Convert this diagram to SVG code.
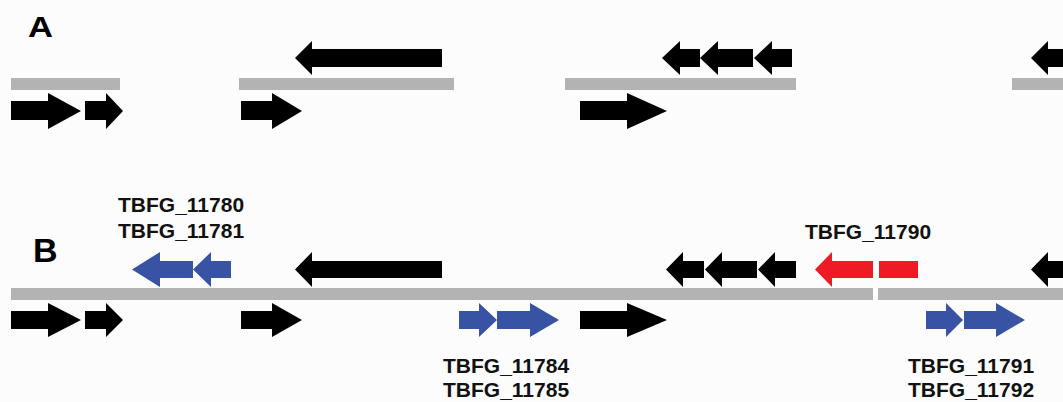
<svg xmlns="http://www.w3.org/2000/svg" width="1063" height="402" viewBox="0 0 1063 402">
<style>
.bar{fill:#b3b3b3}
.blk{fill:#000}
.blu{fill:#3953a4}
.red{fill:#ed1c24}
.lbl{font-family:"Liberation Sans",Arial,sans-serif;font-weight:bold;font-size:21px;fill:#111}
.pan{font-family:"Liberation Sans",Arial,sans-serif;font-weight:bold;fill:#000}
</style>
<rect width="1063" height="402" fill="#fcfcfd"/>
<g id="panelA">
<text class="pan" x="28" y="37" font-size="29" textLength="25" lengthAdjust="spacingAndGlyphs">A</text>
<g id="A-bars">
<rect class="bar" x="11" y="78" width="109" height="12"/>
<rect class="bar" x="239" y="78" width="215" height="12"/>
<rect class="bar" x="565" y="78" width="231" height="12"/>
<rect class="bar" x="1012" y="78" width="51" height="12"/>
</g>
<g id="A-genes">
<polygon class="blk" points="11,101 48,101 48,93 81,111 48,129 48,120 11,120"/>
<polygon class="blk" points="85,101 106,101 106,93 123,111 106,129 106,120 85,120"/>
<polygon class="blk" points="241,101 272,101 272,93 302,111 272,129 272,120 241,120"/>
<polygon class="blk" points="580,101 627,101 627,93 667,111 627,129 627,120 580,120"/>
<polygon class="blk" points="295,58 312,41 312,49 442,49 442,67 312,67 312,75"/>
<polygon class="blk" points="662,58 680,41 680,49 700,49 700,67 680,67 680,75"/>
<polygon class="blk" points="700,58 718,41 718,49 753,49 753,67 718,67 718,75"/>
<polygon class="blk" points="754,58 772,41 772,49 792,49 792,67 772,67 772,75"/>
<polygon class="blk" points="1031,58 1048,41 1048,49 1063,49 1063,67 1048,67 1048,75"/>
</g>
</g>
<g id="panelB">
<text class="pan" x="33" y="262" font-size="34">B</text>
<g id="B-bars">
<rect class="bar" x="11" y="288" width="862" height="12"/>
<rect class="bar" x="878" y="288" width="185" height="12"/>
</g>
<g id="B-genes">
<polygon class="blk" points="11,311 48,311 48,303 81,320 48,337 48,329 11,329"/>
<polygon class="blk" points="85,311 106,311 106,303 123,320 106,337 106,329 85,329"/>
<polygon class="blk" points="241,311 272,311 272,303 302,320 272,337 272,329 241,329"/>
<polygon class="blk" points="580,311 627,311 627,303 667,320 627,337 627,329 580,329"/>
<polygon class="blk" points="295,269.5 312,252 312,261 442,261 442,278 312,278 312,287"/>
<polygon class="blk" points="666,269.5 683,252 683,261 704,261 704,278 683,278 683,287"/>
<polygon class="blk" points="705,269.5 722,252 722,261 757,261 757,278 722,278 722,287"/>
<polygon class="blk" points="758,269.5 775,252 775,261 796,261 796,278 775,278 775,287"/>
<polygon class="blk" points="1031,269.5 1048,252 1048,261 1063,261 1063,278 1048,278 1048,287"/>
</g>
<g id="blue-11780-11781">
<polygon class="blu" points="132,269.5 160,252 160,261 193,261 193,278 160,278 160,287"/>
<polygon class="blu" points="193,269.5 211,252 211,261 231,261 231,278 211,278 211,287"/>
<text class="lbl" x="118" y="212">TBFG_11780</text>
<text class="lbl" x="118" y="238">TBFG_11781</text>
</g>
<g id="blue-11784-11785">
<polygon class="blu" points="459,311 479,311 479,303 497,320 479,337 479,329 459,329"/>
<polygon class="blu" points="497,311 530,311 530,303 559,320 530,337 530,329 497,329"/>
<text class="lbl" x="443" y="373">TBFG_11784</text>
<text class="lbl" x="443" y="397">TBFG_11785</text>
</g>
<g id="red-11790">
<polygon class="red" points="815,269.5 832,252 832,261 873,261 873,278 832,278 832,287"/>
<rect class="red" x="879" y="261" width="39" height="17"/>
<text class="lbl" x="805" y="239">TBFG_11790</text>
</g>
<g id="blue-11791-11792">
<polygon class="blu" points="926,311 946,311 946,303 963,320 946,337 946,329 926,329"/>
<polygon class="blu" points="964,311 996,311 996,303 1025,320 996,337 996,329 964,329"/>
<text class="lbl" x="908" y="373">TBFG_11791</text>
<text class="lbl" x="908" y="397">TBFG_11792</text>
</g>
</g>
<g id="connectors"/>
</svg>
